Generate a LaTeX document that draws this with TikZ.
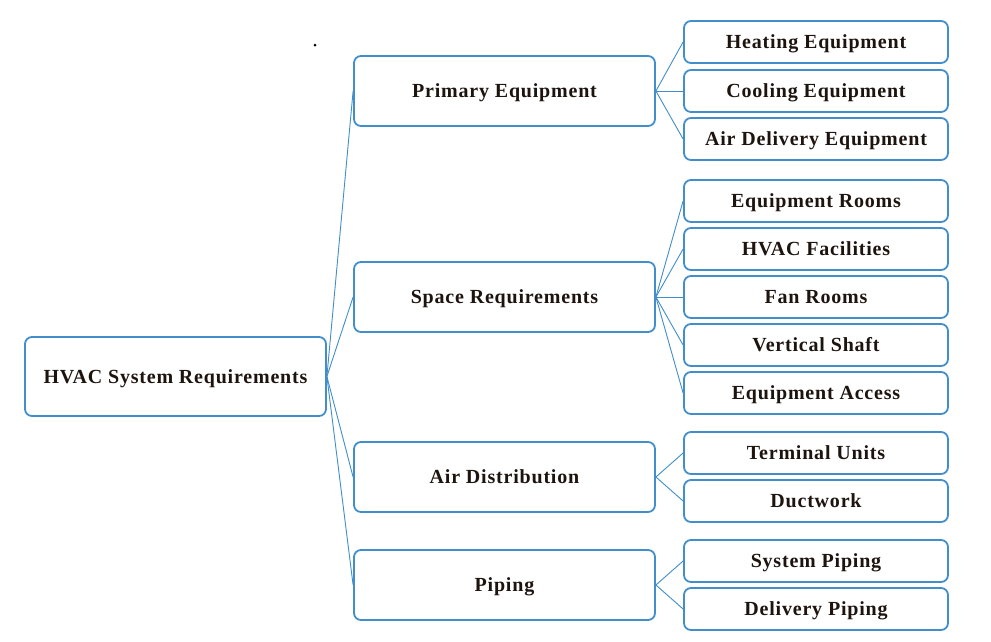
\documentclass[tikz,border=0pt]{standalone}
\usepackage{fontspec}
\setmainfont{Liberation Serif}[LetterSpace=4]
\definecolor{boxblue}{RGB}{66,142,202}
\definecolor{txt}{RGB}{30,20,15}
\tikzset{
  box/.style={draw=boxblue, line width=1.8pt, rounded corners=7pt, fill=white,
    font=\fontsize{20}{23}\selectfont\bfseries, text=txt, inner sep=0pt,
    text height=14.5pt, text depth=1.5pt},
  rootbox/.style={box, minimum width=301pt, minimum height=79pt},
  midbox/.style={box, minimum width=301pt, minimum height=70pt},
  leafbox/.style={box, minimum width=264pt, minimum height=42pt},
  link/.style={draw=boxblue, line width=0.9pt}
}
\begin{document}
\begin{tikzpicture}[x=1pt,y=-1pt]
\useasboundingbox (0,0) rectangle (991,641);
\node[circle, fill=black, inner sep=0pt, minimum size=3pt] (dot) at (315,45) {};
\node[rootbox] (root) at (175.5,376.5) {HVAC System Requirements};
\node[midbox] (pe) at (504.5,91) {Primary Equipment};
\node[midbox] (sr) at (504.5,297) {Space Requirements};
\node[midbox] (ad) at (504.5,477) {Air Distribution};
\node[midbox] (pi) at (504.5,585) {Piping};
\node[leafbox] (he) at (816,42) {Heating Equipment};
\node[leafbox] (ce) at (816,91) {Cooling Equipment};
\node[leafbox] (ade) at (816,139) {Air Delivery Equipment};
\node[leafbox] (er) at (816,201) {Equipment Rooms};
\node[leafbox] (hf) at (816,249) {HVAC Facilities};
\node[leafbox] (fr) at (816,297) {Fan Rooms};
\node[leafbox] (vs) at (816,345) {Vertical Shaft};
\node[leafbox] (ea) at (816,393) {Equipment Access};
\node[leafbox] (tu) at (816,453) {Terminal Units};
\node[leafbox] (dw) at (816,501) {Ductwork};
\node[leafbox] (sp) at (816,561) {System Piping};
\node[leafbox] (dp) at (816,609) {Delivery Piping};
\foreach \m in {pe,sr,ad,pi} \draw[link] (root.east) -- (\m.west);
\foreach \l in {he,ce,ade} \draw[link] (pe.east) -- (\l.west);
\foreach \l in {er,hf,fr,vs,ea} \draw[link] (sr.east) -- (\l.west);
\foreach \l in {tu,dw} \draw[link] (ad.east) -- (\l.west);
\foreach \l in {sp,dp} \draw[link] (pi.east) -- (\l.west);
\end{tikzpicture}
\end{document}
